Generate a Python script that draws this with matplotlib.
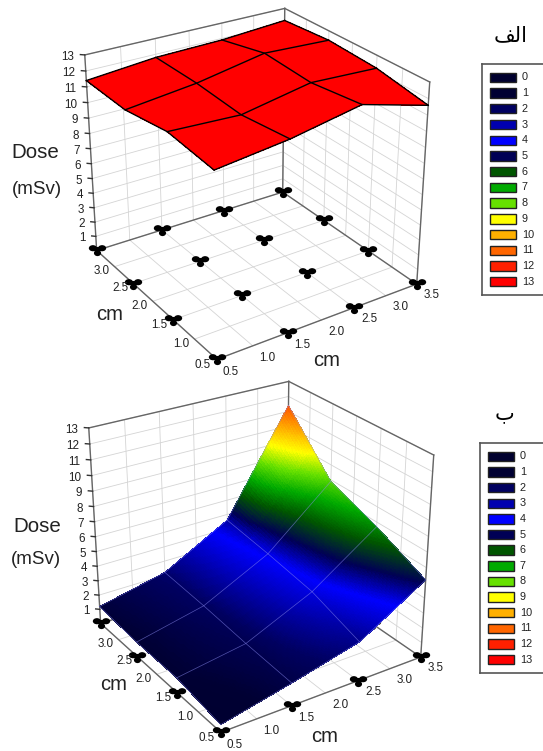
import numpy as np
import matplotlib
matplotlib.use("Agg")
import matplotlib.pyplot as plt
from matplotlib.colors import LinearSegmentedColormap
from matplotlib.path import Path
from matplotlib.transforms import Affine2D
from mpl_toolkits.mplot3d import Axes3D, proj3d  # noqa

W, H = 543, 751

plt.rcParams["font.family"] = ["Liberation Sans", "DejaVu Sans"]

node_x = [0.5, 1.5, 2.5, 3.5]
node_y = [0.5, 1.5, 2.5, 3.5]
x_ticks = [0.5, 1.0, 1.5, 2.0, 2.5, 3.0, 3.5]
y_ticks = [0.5, 1.0, 1.5, 2.0, 2.5, 3.0]
z_ticks = list(range(1, 14))

# dose, rows = y, columns = x
dose_a = np.array([
    [11.5, 12.0, 12.8, 11.6],
    [11.8, 11.6, 12.4, 12.2],
    [11.3, 11.8, 12.6, 12.4],
    [11.4, 11.8, 11.9, 12.2],
])
dose_b = np.array([
    [0.5, 1.5, 2.6, 5.2],
    [1.0, 1.7, 3.7, 6.7],
    [1.0, 2.0, 4.2, 7.9],
    [1.2, 2.2, 4.6, 11.4],
])

legend_vals = list(range(14))
legend_cols = ["#00002e", "#000033", "#000060", "#0000b0", "#0000ff", "#000055", "#005500",
               "#00aa00", "#66e000", "#ffff00", "#ffb000", "#ff6600", "#ff2000", "#ff0000"]

cmap = LinearSegmentedColormap.from_list("dose", list(zip(np.array(legend_vals) / 13, legend_cols)))


def tripod():
    circ = Path.unit_circle()
    parts = []
    for cx, cy, sx, sy in [(-0.9, 0.45, 0.8, 0.6), (0.9, 0.45, 0.8, 0.6),
                           (0.0, -0.5, 0.7, 0.6), (0.0, 0.2, 0.6, 0.5)]:
        parts.append(circ.transformed(Affine2D().scale(sx, sy).translate(cx, cy)))
    return Path.make_compound_path(*parts)


def refine(Z, n=40):
    # only for smooth shading of the 4x4 mesh
    u = np.linspace(0, 3, 3 * n + 1)
    rows = np.array([np.interp(u, np.arange(4), r) for r in Z])
    out = np.array([np.interp(u, np.arange(4), c) for c in rows.T]).T
    xs = np.interp(u, np.arange(4), node_x)
    ys = np.interp(u, np.arange(4), node_y)
    return xs, ys, out


def tick_text(ax, x, y, z, s, **kw):
    # plain 2D text at the projected position of a 3D point
    px, py, _ = proj3d.proj_transform(x, y, z, ax.get_proj())
    ax.text2D(px, py, s, transform=ax.transData, va="center", fontsize=8.4,
              color="#222222", clip_on=False, **kw)


def panel(center, Z, elev, azim, focal, zoom, zasp, gradient, line_kw):
    side = 500
    cx, cy = center
    rect = [(cx - side / 2) / W, 1 - (cy + side / 2) / H, side / W, side / H]
    ax = fig.add_axes(rect, projection="3d")
    ax.computed_zorder = False
    ax.patch.set_alpha(0)
    ax.set_axis_off()
    ax.set_proj_type("persp", focal_length=focal)
    ax.view_init(elev=elev, azim=azim)
    ax.set_box_aspect((1, 1, zasp), zoom=zoom)
    ax.set_xlim(0.5, 3.5)
    ax.set_ylim(0.5, 3.5)
    ax.set_zlim(0, 13)

    grid = dict(color="#d4d4d4", lw=0.6, zorder=1)
    for v in np.arange(0.5, 3.6, 0.5):
        ax.plot([v, v], [0.5, 3.5], [0, 0], **grid)
        ax.plot([0.5, 3.5], [v, v], [0, 0], **grid)
        ax.plot([v, v], [3.5, 3.5], [0, 13], **grid)
        ax.plot([3.5, 3.5], [v, v], [0, 13], **grid)
    for z in z_ticks:
        ax.plot([0.5, 3.5], [3.5, 3.5], [z, z], **grid)
        ax.plot([3.5, 3.5], [0.5, 3.5], [z, z], **grid)

    edge = dict(color="#666666", lw=1.0, zorder=1.5)
    ax.plot([0.5, 0.5], [3.5, 3.5], [0, 13], **edge)
    ax.plot([3.5, 3.5], [0.5, 0.5], [0, 13], **edge)
    ax.plot([3.5, 3.5], [3.5, 3.5], [0, 13], **edge)
    ax.plot([0.5, 3.5], [3.5, 3.5], [13, 13], **edge)
    ax.plot([3.5, 3.5], [0.5, 3.5], [13, 13], **edge)
    ax.plot([0.5, 3.5], [0.5, 0.5], [0, 0], **edge)
    ax.plot([0.5, 0.5], [0.5, 3.5], [0, 0], **edge)
    ax.plot([0.5, 3.5], [3.5, 3.5], [0, 0], **edge)
    ax.plot([3.5, 3.5], [0.5, 3.5], [0, 0], **edge)

    gx, gy = np.meshgrid(node_x, node_y)
    ax.plot(gx.ravel(), gy.ravel(), np.zeros(gx.size), ls="none", marker=tripod(),
            ms=12.5, mfc="black", mec="black", mew=0, zorder=2)

    xs, ys, zz = refine(Z)
    X, Y = np.meshgrid(xs, ys)
    if gradient:
        cols = cmap(zz / 13)
    else:
        cols = np.tile(matplotlib.colors.to_rgba("#ff0000"), zz.shape + (1,))
    ax.plot_surface(X, Y, zz, facecolors=cols, rstride=1, cstride=1, shade=False,
                    linewidth=0, antialiased=False, zorder=3)
    for i in range(4):
        ax.plot(gx[i], gy[i], Z[i], zorder=4, **line_kw)
        ax.plot(gx[:, i], gy[:, i], Z[:, i], zorder=4, **line_kw)

    for z in z_ticks:
        ax.plot([0.5, 0.46], [3.5, 3.54], [z, z], color="#333333", lw=1, zorder=5)
        tick_text(ax, 0.40, 3.60, z - 0.2, str(z), ha="right")
    for v in x_ticks:
        tick_text(ax, v, 0.20, 0, f"{v:.1f}", ha="center")
    for v in y_ticks:
        tick_text(ax, 0.31, v, 0, f"{v:.1f}", ha="center")
    return ax


def legend_box(left, top, bottom):
    # runs past the right edge of the figure, as in the original
    ax = fig.add_axes([left / W, 1 - bottom / H, 72 / W, (bottom - top) / H])
    ax.set_xlim(left, left + 72)
    ax.set_ylim(13.85, -0.85)
    ax.barh(legend_vals, 26, left=left + 8, height=0.6, color=legend_cols,
            edgecolor="#222222", linewidth=1.0)
    for v in legend_vals:
        ax.text(left + 40, v, str(v), ha="left", va="center", fontsize=7.8, color="#222222")
    ax.set_xticks([])
    ax.set_yticks([])
    for s in ax.spines.values():
        s.set_color("#555555")
        s.set_linewidth(1.2)
    return ax


def label(x, y, s, **kw):
    fig.text(x / W, 1 - y / H, s, ha="center", va="center", **kw)


fig = plt.figure(figsize=(W / 100, H / 100), dpi=100, facecolor="white")

panel((246.5, 178), dose_a, 27, -123.5, 0.5, 0.787, 0.93, False,
      dict(color="black", lw=1.0))
panel((250.5, 551), dose_b, 27, -123.5, 0.5, 0.787, 0.93, True,
      dict(color="#8888ee", lw=0.5, alpha=0.6))

legend_box(482, 64, 295)
legend_box(480, 443, 673)

label(35, 153, "Dose", fontsize=14.8, color="#222222")
label(37, 189, "(mSv)", fontsize=13.5, color="#222222")
label(110, 314, "cm", fontsize=14.6, color="#222222")
label(327, 360, "cm", fontsize=14.6, color="#222222")
label(37, 526, "Dose", fontsize=14.8, color="#222222")
label(36, 559, "(mSv)", fontsize=13.5, color="#222222")
label(114, 685, "cm", fontsize=14.6, color="#222222")
label(325, 736, "cm", fontsize=14.6, color="#222222")

# Arabic presentation forms, matplotlib does not shape
label(511, 35, "\ufed2\ufedf\ufe8d", fontsize=15, family="DejaVu Sans", color="black")
label(505, 413, "\ufe8f", fontsize=15, family="DejaVu Sans", color="black")

fig.savefig("out.png", dpi=100)
